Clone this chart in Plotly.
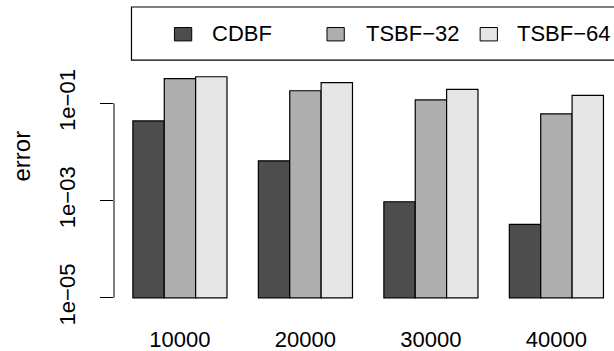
import plotly.graph_objects as go

# Error per filter size, three filter variants
sizes = ["10000", "20000", "30000", "40000"]
series_names = ["CDBF", "TSBF\u221232", "TSBF\u221264"]
cdbf = [0.0434, 0.00655, 0.000944, 0.000324]
tsbf32 = [0.320, 0.181, 0.117, 0.0604]
tsbf64 = [0.351, 0.265, 0.194, 0.146]
colors = ["#4D4D4D", "#AEAEAE", "#E6E6E6"]

ytick_vals = [1e-5, 1e-3, 1e-1]
ytick_text = ["1e\u221205", "1e\u221203", "1e\u221201"]
bar_base = 1e-5

W, H = 614, 351
L, R, T, B = 113.5, 0, 6.7, 41.5
plot_w = W - L - R
plot_h = H - T - B

FONT = "Liberation Sans, Arial, Helvetica, sans-serif"
FS = 22


def px_x(px):
    return (px - L) / plot_w


def px_y(py):
    return (H - B - py) / plot_h


fig = go.Figure()
for name, vals, col in zip(series_names, [cdbf, tsbf32, tsbf64], colors):
    fig.add_trace(go.Bar(
        x=sizes,
        y=[v - bar_base for v in vals],
        base=bar_base,
        name=name,
        marker=dict(color=col, line=dict(color="black", width=1.2)),
        showlegend=False,
        hoverinfo="skip",
    ))

shapes = [
    # y axis line spanning the labelled decades
    dict(type="line", xref="paper", x0=0, x1=0, yref="y",
         y0=ytick_vals[0], y1=ytick_vals[-1],
         line=dict(color="black", width=1)),
    # legend frame
    dict(type="rect", xref="paper", yref="paper",
         x0=px_x(131), x1=px_x(640), y0=px_y(60), y1=px_y(6.7),
         line=dict(color="black", width=1.2), fillcolor="white", layer="above"),
]
annotations = [
    dict(text="error", xref="paper", yref="paper", x=px_x(21), y=px_y(156),
         xanchor="center", yanchor="middle", textangle=-90, showarrow=False,
         font=dict(family=FONT, size=24, color="black")),
]

key_left = [174, 326.7, 480]
text_left = [210, 363.5, 515]
for name, col, kx, tx in zip(series_names, colors, key_left, text_left):
    shapes.append(dict(type="rect", xref="paper", yref="paper",
                       x0=px_x(kx), x1=px_x(kx + 17.3),
                       y0=px_y(40.7), y1=px_y(27.3),
                       line=dict(color="black", width=1), fillcolor=col,
                       layer="above"))
    annotations.append(dict(text=name, xref="paper", yref="paper",
                            x=px_x(tx), y=px_y(33), xanchor="left",
                            yanchor="middle", showarrow=False,
                            font=dict(family=FONT, size=FS, color="black")))

fig.update_layout(
    width=W, height=H,
    margin=dict(l=L, r=R, t=T, b=B, pad=0),
    paper_bgcolor="white", plot_bgcolor="white",
    barmode="group", bargap=0.25, bargroupgap=0,
    font=dict(family=FONT, size=FS, color="black"),
    shapes=shapes, annotations=annotations,
    xaxis=dict(
        type="category", range=[-0.5255, 3.459],
        showline=False, showgrid=False, zeroline=False,
        ticks="", tickfont=dict(family=FONT, size=FS, color="black"),
        ticklabelstandoff=15,
    ),
    yaxis=dict(
        type="log", range=[-5.23, 0.98],
        showline=False, showgrid=False, zeroline=False,
        tickvals=ytick_vals, ticktext=ytick_text,
        ticks="outside", ticklen=13, tickwidth=1, tickcolor="black",
        tickangle=-90, tickfont=dict(family=FONT, size=FS, color="black"),
        ticklabelstandoff=16,
    ),
)

fig.write_html("out.html", config={"displayModeBar": False})
